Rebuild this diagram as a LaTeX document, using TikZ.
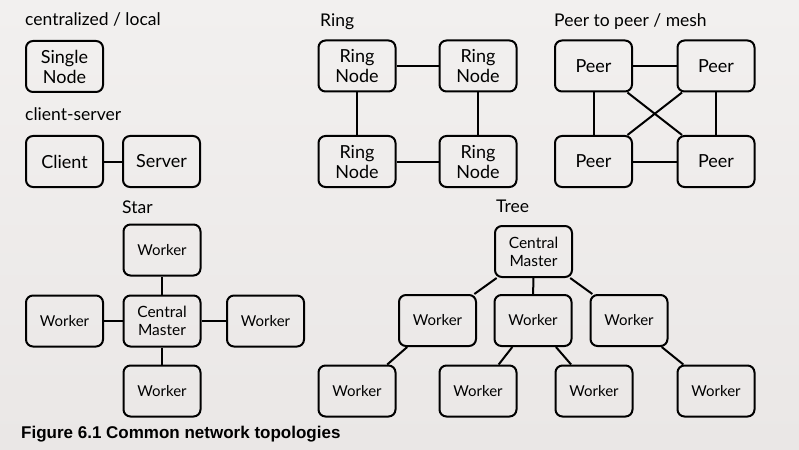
\documentclass[tikz,border=0pt]{standalone}
\usepackage{fontspec}
\setmainfont{Lato}
\newfontfamily\capfont{Liberation Sans}
\definecolor{bgtop}{RGB}{242,240,239}
\definecolor{bgbot}{RGB}{234,231,230}

\begin{document}
\begin{tikzpicture}[x=1pt, y=-1pt,
		box/.style={draw, line width=2pt, rounded corners=7pt, minimum width=77pt, minimum height=51pt, inner sep=0pt, align=center, font=\fontsize{18}{20}\selectfont},
		wbox/.style={box, font=\fontsize{15}{17}\selectfont},
		mbox/.style={box, font=\fontsize{15.5}{18}\selectfont},
		ttl/.style={anchor=base west, inner sep=0pt, font=\fontsize{17.5}{20}\selectfont},
		link/.style={line width=2pt}]
				\shade[top color=bgtop, bottom color=bgbot] (0,0) rectangle (799,449);
				\useasboundingbox (0,0) rectangle (799,449);

				\node[ttl] (tc)at(25, 26) {centralized / local};
				\node[box] (SN)at(64.5, 66.5) {Single\\Node};

				\node[ttl] (tcs)at(25, 121) {client-server};
				\node[box] (C)at(64.5, 161.5) {Client};
				\node[box] (S)at(161.5, 161.5) {Server};
				\draw[link] (C) -- (S);

				\node[ttl] (tr)at(320, 27) {Ring};
				\node[box] (R1)at(357, 66) {Ring\\Node};
				\node[box] (R2)at(478, 66) {Ring\\Node};
				\node[box] (R3)at(357, 161.5) {Ring\\Node};
				\node[box] (R4)at(478, 161.5) {Ring\\Node};
				\draw[link] (R1) -- (R2);
				\draw[link] (R1) -- (R3);
				\draw[link] (R2) -- (R4);
				\draw[link] (R3) -- (R4);

				\node[ttl] (tp)at(554, 27) {Peer to peer / mesh};
				\node[box] (P1)at(593.5, 66) {Peer};
				\node[box] (P2)at(716, 66) {Peer};
				\node[box] (P3)at(593.5, 161.5) {Peer};
				\node[box] (P4)at(716, 161.5) {Peer};
				\draw[link] (P1) -- (P2);
				\draw[link] (P1) -- (P3);
				\draw[link] (P2) -- (P4);
				\draw[link] (P3) -- (P4);
				\draw[link] (P1) -- (P4);
				\draw[link] (P2) -- (P3);

				\node[ttl] (ts)at(122, 213) {Star};
				\node[mbox] (SM)at(162, 321) {Central\\Master};
				\node[wbox] (SW1)at(162, 250) {Worker};
				\node[wbox] (SW2)at(64.5, 321) {Worker};
				\node[wbox] (SW3)at(265.5, 321) {Worker};
				\node[wbox] (SW4)at(162, 391) {Worker};
				\draw[link] (SM) -- (SW1);
				\draw[link] (SM) -- (SW2);
				\draw[link] (SM) -- (SW3);
				\draw[link] (SM) -- (SW4);

				\node[ttl] (tt)at(496, 212) {Tree};
				\node[mbox] (TM)at(533.5, 251.5) {Central\\Master};
				\node[wbox] (T1)at(437.5, 320.5) {Worker};
				\node[wbox] (T2)at(533, 320.5) {Worker};
				\node[wbox] (T3)at(629, 320.5) {Worker};
				\node[wbox] (T4)at(357, 391) {Worker};
				\node[wbox] (T5)at(478, 391) {Worker};
				\node[wbox] (T6)at(594, 391) {Worker};
				\node[wbox] (T7)at(716, 391) {Worker};
				\draw[link] (TM) -- (T1);
				\draw[link] (TM) -- (T2);
				\draw[link] (TM) -- (T3);
				\draw[link] (T1) -- (T4);
				\draw[link] (T2) -- (T5);
				\draw[link] (T2) -- (T6);
				\draw[link] (T3) -- (T7);

				\node[anchor=base west, inner sep=0pt, font=\capfont\bfseries\fontsize{17}{20}\selectfont] (cap)at(21, 438) {Figure 6.1 Common network topologies};
		\end{tikzpicture}
\end{document}
